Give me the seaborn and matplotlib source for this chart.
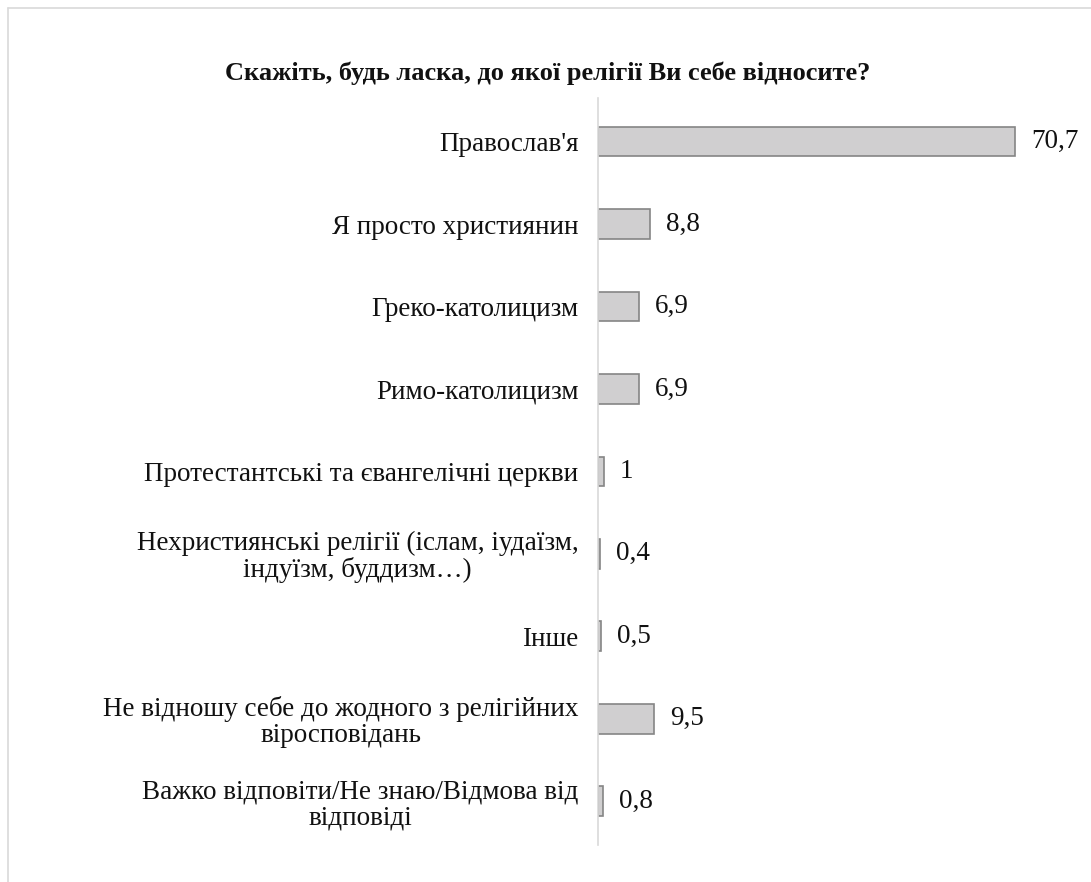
import matplotlib
matplotlib.use("Agg")
import matplotlib.pyplot as plt
import pandas as pd
import seaborn as sns
from matplotlib.lines import Line2D

title = "Скажіть, будь ласка, до якої релігії Ви себе відносите?"
categories = [
    "Православ'я",
    "Я просто християнин",
    "Греко-католицизм",
    "Римо-католицизм",
    "Протестантські та євангелічні церкви",
    "Нехристиянські релігії (іслам, іудаїзм,\nіндуїзм, буддизм…)",
    "Інше",
    "Не відношу себе до жодного з релігійних\nвіросповідань",
    "Важко відповіти/Не знаю/Відмова від\nвідповіді",
]
values = [70.7, 8.8, 6.9, 6.9, 1, 0.4, 0.5, 9.5, 0.8]
value_labels = ["70,7", "8,8", "6,9", "6,9", "1", "0,4", "0,5", "9,5", "0,8"]

frame = pd.DataFrame({"category": categories, "value": values})

sns.set_theme(style="white")
plt.rcParams["font.family"] = ["Liberation Serif", "DejaVu Serif"]

fig = plt.figure(figsize=(10.91, 8.82), dpi=100)
ax = fig.add_axes([0.548, 0.042, 0.406, 0.847])

sns.barplot(
    data=frame,
    x="value",
    y="category",
    orient="h",
    color="#d0cfd0",
    edgecolor="#858585",
    linewidth=1.2,
    width=0.36,
    saturation=1,
    ax=ax,
)
ax.bar_label(ax.containers[0], labels=value_labels, padding=11.5, fontsize=19.5, color="#111111")

ax.set_xlim(0, 75)
ax.set_ylim(8.53, -0.53)
ax.set_xlabel("")
ax.set_ylabel("")
ax.set_xticks([])
ax.tick_params(axis="y", length=0, pad=14, labelsize=19.5, labelcolor="#111111")
for label in ax.get_yticklabels():
    label.set_multialignment("center")
    label.set_linespacing(1.05)

for side in ("top", "right", "bottom"):
    ax.spines[side].set_visible(False)
ax.spines["left"].set_color("#d9d9d9")
ax.spines["left"].set_linewidth(1.2)

fig.text(0.502, 0.917, title, ha="center", va="center", fontsize=19,
         fontweight="bold", color="#111111")

# outer chart frame (only top and left edges visible)
fig.add_artist(Line2D([0.0073, 1.0], [0.991, 0.991], color="#d9d9d9", linewidth=1.2))
fig.add_artist(Line2D([0.0073, 0.0073], [0.0, 0.991], color="#d9d9d9", linewidth=1.2))

fig.savefig("out.png", dpi=100)
plt.close(fig)
